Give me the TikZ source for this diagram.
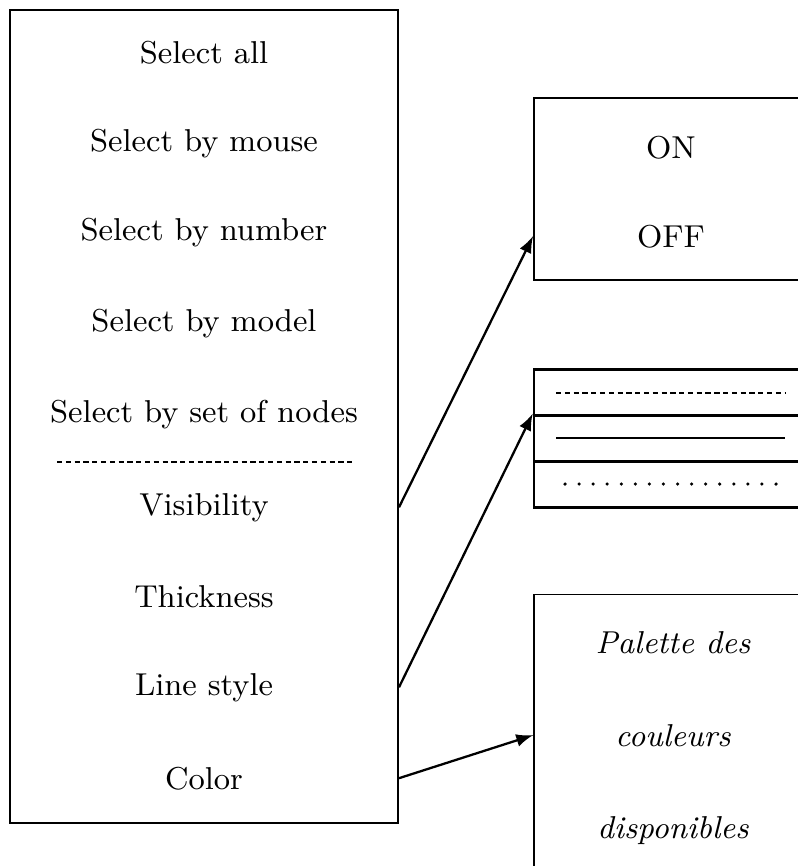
\documentclass[tikz,border=0pt]{standalone}
\usepackage{tikz}
\usetikzlibrary{shapes,arrows,positioning}
\tikzstyle{cadre} = [draw, line width=0.5pt, rectangle, inner sep=0pt]
\tikzstyle{rangee} = [draw, line width=0.7pt, rectangle, inner sep=0pt, minimum width=3.66cm, minimum height=0.46cm]
\tikzstyle{option} = [font=\fontsize{9}{11}\selectfont, anchor=base]
\tikzstyle{fleche} = [-latex, line width=0.65pt]
\tikzstyle{tirete} = [line width=0.55pt, dash pattern=on 1.5pt off 1pt]

\begin{document}
\begin{tikzpicture}[x=0.01cm, y=-0.01cm]
\useasboundingbox (0,0) rectangle (798,866);
\clip (0,0) rectangle (798,866);
% menu de gauche
\node[cadre, minimum width=3.88cm, minimum height=8.13cm] (menu) at (204,416.5) {};
\node[option] (tout) at (204,63) {Select all};
\node[option] (souris) at (204,151) {Select by mouse};
\node[option] (numero) at (204,240) {Select by number};
\node[option] (modele) at (204,331) {Select by model};
\node[option] (noeuds) at (204,422) {Select by set of nodes};
\coordinate (sepg) at (57,462);
\coordinate (sepd) at (353,462);
\draw[tirete] (sepg) -- (sepd);
\node[option] (vis) at (204,515) {Visibility};
\node[option] (epais) at (204,607) {Thickness};
\node[option] (style) at (204,695) {Line style};
\node[option] (couleur) at (204,789) {Color};
% ON / OFF
\node[cadre, minimum width=3.66cm, minimum height=1.82cm] (onoff) at (717,189) {};
\node[option] (on) at (671,158) {ON};
\node[option] (off) at (671,247) {OFF};
% styles de trait
\node[rangee] (tirets) at (717,392.5) {};
\node[rangee] (plein) at (717,438) {};
\node[rangee] (points) at (717,484.5) {};
\draw[tirete] (556,393) -- (786,393);
\draw[line width=0.5pt] (556,438) -- (785,438);
\draw[line width=1pt, line cap=round, dash pattern=on 0pt off 4pt] (565,484) -- (778,484);
% palette
\node[cadre, minimum width=3.66cm, minimum height=3.55cm] (palette) at (717,772) {};
\node[option, font=\fontsize{9}{11}\selectfont\itshape] (pal) at (673,653) {Palette des};
\node[option, font=\fontsize{9}{11}\selectfont\itshape] (coul) at (673,746) {couleurs};
\node[option, font=\fontsize{9}{11}\selectfont\itshape] (dispo) at (673,838) {disponibles};
% fleches
\draw[fleche] (vis -| menu.east) -- (off -| onoff.west);
\draw[fleche] (style -| menu.east) -- (plein.north west);
\draw[fleche] (couleur -| menu.east) -- (coul -| palette.west);
\end{tikzpicture}
\end{document}
